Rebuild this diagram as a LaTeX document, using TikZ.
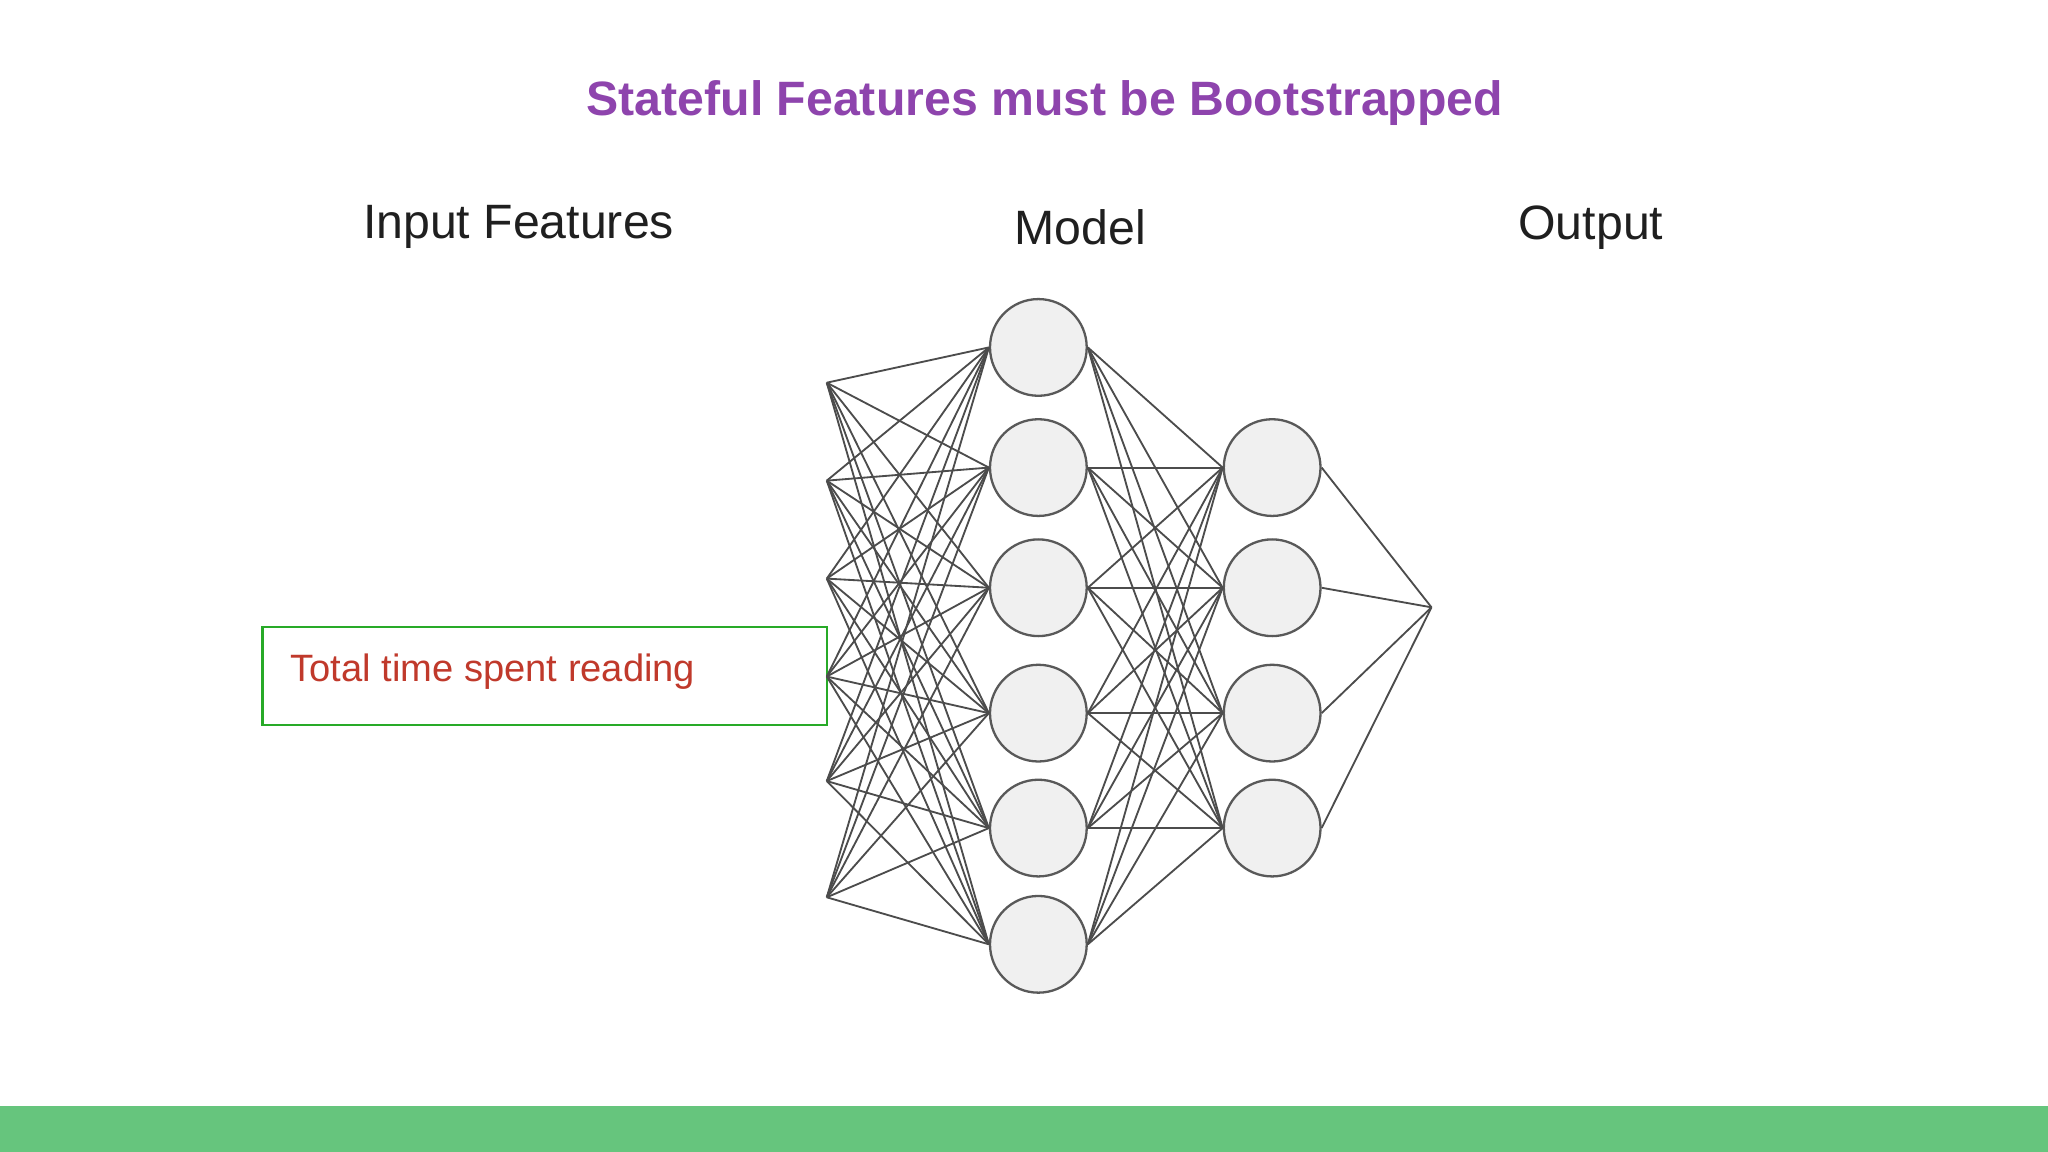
\documentclass[tikz,border=0pt]{standalone}
\usepackage{fontspec}
\setmainfont{Liberation Sans}
\begin{document}
\begin{tikzpicture}[x=0.01cm,y=-0.01cm,
  neuron/.style={circle,draw=black!65,fill=gray!12,line width=0.5pt,minimum size=0.74cm,inner sep=0pt},
  conn/.style={draw=black!70,line width=0.4pt},
  head/.style={font=\fontsize{10.5}{12}\selectfont,text=black!88}]
\useasboundingbox (0,0) rectangle (1568,882);
\fill[white] (0,0) rectangle (1568,882);
\fill[green!55!black!85!cyan!60] (0,847) rectangle (1568,882);
\node[font=\bfseries\fontsize{10.5}{12}\selectfont,text={rgb,255:red,142;green,68;blue,173}] (title) at (800,79) {Stateful Features must be Bootstrapped};
\node[head] (hin) at (397,174) {Input Features};
\node[head] (hmod) at (827,174) {Model};
\node[head] (hout) at (1218,174) {Output};
\node[draw={rgb,255:red,40;green,170;blue,40},line width=0.6pt,minimum width=4.32cm,minimum height=0.75cm,inner sep=0pt] (box) at (417,517.5) {};
\node[anchor=west,font=\fontsize{8.3}{10}\selectfont,text={rgb,255:red,192;green,57;blue,43}] (lbl) at (210,514) {Total time spent reading};
\foreach \i/\y in {1/293,2/368,3/443,4/518,5/598,6/687} \coordinate (in\i) at (633,\y);
\foreach \i/\y in {1/266,2/358,3/450,4/546,5/634,6/723} \node[neuron] (h\i) at (795,\y) {};
\foreach \i/\y in {1/358,2/450,3/546,4/634} \node[neuron] (g\i) at (974,\y) {};
\coordinate (out) at (1096,465);
\foreach \i in {1,...,6} \foreach \j in {1,...,6} \draw[conn] (in\i) -- (h\j.west);
\foreach \i in {1,...,6} \foreach \j in {1,...,4} \draw[conn] (h\i.east) -- (g\j.west);
\foreach \j in {1,...,4} \draw[conn] (g\j.east) -- (out);
\end{tikzpicture}
\end{document}
